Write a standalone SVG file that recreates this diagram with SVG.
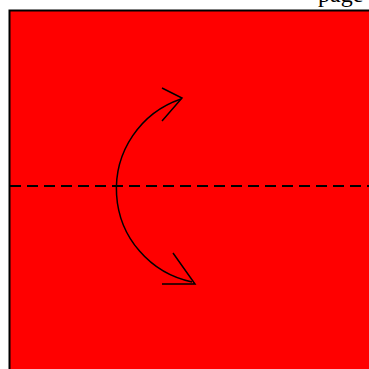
<svg xmlns="http://www.w3.org/2000/svg" width="369" height="369" viewBox="0 0 369 369">
<style>
.ln{fill:none;stroke:#000;stroke-width:1.5}
</style>
<rect width="369" height="369" fill="#fff"/>
<text x="318" y="2" font-family="Liberation Serif, serif" font-size="24" fill="#000">page</text>
<g id="paper">
<rect x="9.5" y="10.5" width="380" height="380" fill="#ff0000" stroke="#000" stroke-width="2"/>
</g>
<g id="fold">
<line x1="10" y1="186" x2="369" y2="186" stroke="#000" stroke-width="2" stroke-dasharray="11 6"/>
</g>
<g id="connectors">
<path class="ln" d="M181,99 A95 95 0 0 0 192,282"/>
<path class="ln" d="M162,88 L182,98 L162,121"/>
<path class="ln" d="M173,253 L195,284 L162,284"/>
</g>
</svg>
